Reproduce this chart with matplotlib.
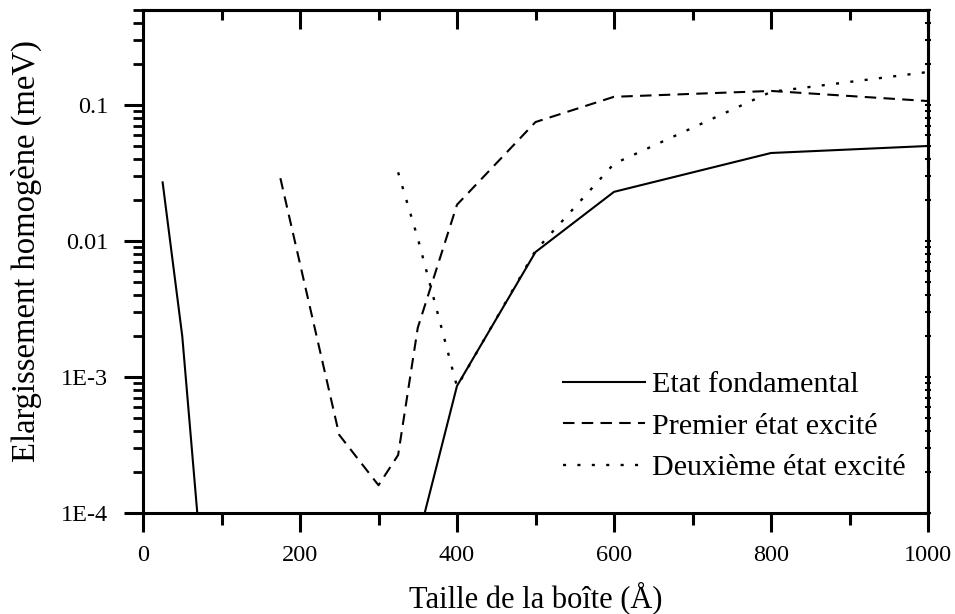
import matplotlib
matplotlib.use("Agg")
import matplotlib.pyplot as plt
from matplotlib.ticker import FixedLocator, FixedFormatter, LogLocator, NullFormatter, MultipleLocator

plt.rcParams['font.family'] = ['Liberation Serif', 'DejaVu Serif']

# Data
x_fond = [25, 50, 75, 350, 400, 500, 600, 800, 1000]
y_fond = [0.027, 0.002, 4e-5, 6.3e-5, 8.6e-4, 0.0083, 0.023, 0.0444, 0.050]

x_prem = [175, 250, 300, 325, 350, 400, 500, 600, 800, 1000]
y_prem = [0.029, 3.75e-4, 1.6e-4, 2.67e-4, 0.0023, 0.0185, 0.075, 0.115, 0.127, 0.107]

x_deux = [325, 350, 375, 400, 500, 600, 800, 1000]
y_deux = [0.032, 0.0105, 0.003, 8.5e-4, 0.0085, 0.037, 0.125, 0.175]

labels = ["Etat fondamental", "Premier état excité", "Deuxième état excité"]
ytick_vals = [1e-4, 1e-3, 1e-2, 1e-1]
ytick_labels = ["1E-4", "1E-3", "0.01", "0.1"]
xtick_vals = [0, 200, 400, 600, 800, 1000]

fig = plt.figure(figsize=(9.55, 6.14), dpi=100)
ax = fig.add_axes([143/955, 1-513/614, (928-143)/955, (513-10)/614])

lw = 1.5
ax.plot(x_fond, y_fond, color='black', lw=lw, linestyle='-', label=labels[0])
ax.plot(x_prem, y_prem, color='black', lw=lw, linestyle=(0, (5.5, 3.5)), label=labels[1])
ax.plot(x_deux, y_deux, color='black', lw=1.7, linestyle=(0, (1.3, 4.8)), label=labels[2])

ax.set_yscale('log')
ax.set_xlim(0, 1000)
ax.set_ylim(1e-4, 0.5)

ax.xaxis.set_major_locator(FixedLocator(xtick_vals))
ax.xaxis.set_minor_locator(MultipleLocator(100))
ax.yaxis.set_major_locator(FixedLocator(ytick_vals))
ax.yaxis.set_major_formatter(FixedFormatter(ytick_labels))
ax.yaxis.set_minor_locator(LogLocator(base=10, subs=range(2, 10)))
ax.yaxis.set_minor_formatter(NullFormatter())

for s in ax.spines.values():
    s.set_linewidth(2.2)

ax.tick_params(axis='both', which='major', labelsize=17.5, width=2.2, length=14, direction='out')
ax.tick_params(axis='x', which='major', pad=9)
ax.tick_params(axis='y', which='major', pad=11)
ax.tick_params(axis='x', which='minor', width=2.2, length=8.5, direction='out')
ax.tick_params(axis='y', which='minor', width=2.0, length=7, direction='out')
ax.tick_params(top=False, right=False, which='both')

axt = ax.secondary_xaxis('top')
axt.xaxis.set_major_locator(FixedLocator(xtick_vals))
axt.xaxis.set_minor_locator(MultipleLocator(100))
axt.tick_params(which='major', direction='in', length=14, width=2.2, labeltop=False)
axt.tick_params(which='minor', direction='in', length=7, width=2.2)
axt.spines['top'].set_linewidth(2.2)

axr = ax.secondary_yaxis('right')
axr.yaxis.set_major_locator(FixedLocator(ytick_vals))
axr.yaxis.set_minor_locator(LogLocator(base=10, subs=range(2, 10)))
axr.yaxis.set_minor_formatter(NullFormatter())
axr.tick_params(which='both', direction='inout', length=5, width=1.5, labelright=False)
axr.spines['right'].set_linewidth(2.2)

ax.set_xlabel("Taille de la boîte (Å)", fontsize=22)
ax.set_ylabel("Elargissement homogène (meV)", fontsize=23.5)
ax.xaxis.set_label_coords(0.5, (513-581)/503)
ax.yaxis.set_label_coords((42-143)/785, (513-251)/503)

leg = ax.legend(loc='upper left', bbox_to_anchor=(563/955, 1-371/614), bbox_transform=fig.transFigure,
                frameon=False, fontsize=21.7, handlelength=2.72, handletextpad=0.22,
                labelspacing=0.48, borderpad=0, borderaxespad=0)

fig.savefig("out.png", dpi=100)
